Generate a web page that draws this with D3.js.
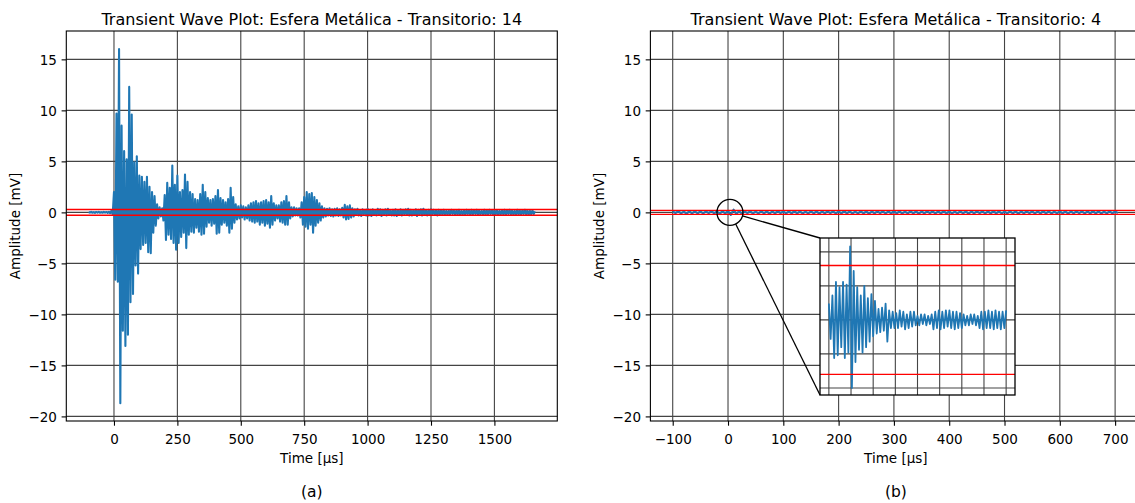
<!DOCTYPE html>
<html>
<head>
<meta charset="utf-8">
<script src="https://d3js.org/d3.v7.min.js"></script>
<style>
body { margin: 0; background: #fff; }
text { font-family: "DejaVu Sans", sans-serif; }
</style>
</head>
<body>
<script>
// ticks
var ampTicks = [-20, -15, -10, -5, 0, 5, 10, 15];
var timeTicksA = [0, 250, 500, 750, 1000, 1250, 1500];
var timeTicksB = [-100, 0, 100, 200, 300, 400, 500, 600, 700];
var zoomTimeTicks = [0, 5, 10, 15, 20, 25, 30, 35, 40];
var zoomAmpTicks = [-0.25, -0.125, 0, 0.125, 0.25];

var titles = ["Transient Wave Plot: Esfera Metálica - Transitorio: 14",
	"Transient Wave Plot: Esfera Metálica - Transitorio: 4"];
var captions = ["(a)", "(b)"];

// transitorio 14, one sample every 5 us starting at -100 us (mV)
var startA = -100, stepA = 5;
var waveA = [
	0.04,-0.03,0.05,-0.04,0.03,-0.05,0.04,-0.03,0.05,-0.04,
	0.03,-0.04,0.05,-0.03,0.04,-0.05,0.06,-0.08,0.15,-0.2,
	2.0,-6.6,9.7,-6.8,16.0,-18.7,8.5,-11.6,6.0,-13.1,
	5.2,-12.0,12.3,-8.8,9.6,-8.0,4.9,-5.2,5.5,-6.0,
	3.6,-3.6,3.5,-3.2,3.0,-3.0,3.5,-3.9,2.5,-4.0,
	2.0,-2.0,1.6,-1.3,0.8,-0.6,0.5,-0.4,0.4,-0.8,
	1.7,-2.7,2.9,-2.2,2.4,-2.6,4.6,-3.0,2.7,-3.65,
	3.6,-3.0,2.0,-2.4,2.2,-2.0,3.7,-3.5,3.0,-2.2,
	2.0,-1.9,1.8,-2.0,1.3,-1.5,1.2,-1.9,1.8,-2.2,
	2.7,-2.1,2.0,-1.4,1.4,-1.0,1.2,-1.3,1.3,-1.1,
	1.6,-2.1,2.2,-2.0,1.4,-1.2,1.2,-1.0,1.0,-1.3,
	1.3,-2.0,2.4,-1.6,1.5,-1.0,0.8,-0.7,0.6,-0.6,
	0.7,-0.5,0.6,-0.7,0.5,-0.6,0.7,-0.8,0.9,-0.9,
	1.0,-1.0,1.1,-0.9,0.9,-1.2,1.0,-1.0,1.1,-1.3,
	1.2,-1.1,1.0,-1.5,1.6,-1.2,0.9,-0.8,0.7,-0.6,
	0.7,-0.9,1.0,-1.0,1.1,-1.2,1.6,-1.2,1.0,-0.6,
	0.5,-0.4,0.5,-0.3,0.4,-0.3,0.4,-0.5,1.0,-1.2,
	1.5,-1.4,2.0,-1.6,1.8,-1.2,1.9,-2.0,1.5,-1.3,
	1.2,-1.0,0.9,-0.8,0.6,-0.5,0.4,-0.4,0.35,-0.3,
	0.4,-0.35,0.3,-0.4,0.35,-0.3,0.4,-0.35,0.3,-0.3,
	0.45,-0.5,0.75,-0.7,0.6,-0.65,0.7,-0.5,0.4,-0.4,
	0.3,-0.25,0.35,-0.3,0.2,-0.35,0.3,-0.2,0.25,-0.3,
	0.35,-0.3,0.25,-0.35,0.3,-0.25,0.2,-0.3,0.35,-0.25,
	0.3,-0.35,0.25,-0.2,0.3,-0.3,0.35,-0.25,0.2,-0.3,
	0.25,-0.3,0.3,-0.35,0.2,-0.25,0.3,-0.3,0.25,-0.2,
	0.3,-0.25,0.35,-0.3,0.25,-0.3,0.2,-0.25,0.3,-0.35,
	0.25,-0.2,0.3,-0.3,0.35,-0.25,0.2,-0.3,0.25,-0.25,
	0.3,-0.2,0.25,-0.25,0.2,-0.3,0.25,-0.2,0.2,-0.25,
	0.25,-0.2,0.15,-0.25,0.2,-0.2,0.25,-0.15,0.2,-0.25,
	0.2,-0.2,0.25,-0.25,0.15,-0.2,0.2,-0.25,0.25,-0.15,
	0.2,-0.25,0.25,-0.2,0.2,-0.15,0.25,-0.25,0.2,-0.2,
	0.15,-0.2,0.25,-0.25,0.2,-0.2,0.25,-0.15,0.2,-0.25,
	0.25,-0.2,0.2,-0.25,0.15,-0.2,0.2,-0.2,0.25,-0.25,
	0.2,-0.15,0.25,-0.2,0.2,-0.25,0.15,-0.2,0.25,-0.2,
	0.2,-0.25,0.2,-0.15,0.25,-0.2,0.2,-0.25,0.15,-0.2,
	0.2,-0.15,0.1
];
var thresholdA = 0.28;

// transitorio 4, one sample every 5 us starting at -100 us (mV)
var startB = -100, stepB = 5;
var waveB = [
	0.1,-0.08,0.12,-0.1,0.08,-0.12,0.1,-0.09,0.11,-0.1,
	0.09,-0.11,0.1,-0.08,0.12,-0.1,0.09,-0.12,0.1,-0.1,
	0.14,-0.25,0.27,-0.15,0.12,-0.12,0.09,-0.08,0.1,-0.1,
	0.08,-0.1,0.11,-0.09,0.1,-0.12,0.09,-0.1,0.12,-0.08,
	0.1,-0.11,0.09,-0.1,0.12,-0.09,0.1,-0.11,0.08,-0.1,
	0.11,-0.09,0.1,-0.12,0.09,-0.1,0.11,-0.08,0.1,-0.11,
	0.09,-0.1,0.12,-0.09,0.1,-0.11,0.08,-0.1,0.11,-0.09,
	0.1,-0.12,0.09,-0.1,0.11,-0.08,0.1,-0.11,0.09,-0.1,
	0.12,-0.09,0.1,-0.11,0.08,-0.1,0.11,-0.09,0.1,-0.12,
	0.09,-0.1,0.11,-0.08,0.1,-0.11,0.09,-0.1,0.12,-0.09,
	0.1,-0.11,0.08,-0.1,0.11,-0.09,0.1,-0.12,0.09,-0.1,
	0.11,-0.08,0.1,-0.11,0.09,-0.1,0.12,-0.09,0.1,-0.11,
	0.08,-0.1,0.11,-0.09,0.1,-0.12,0.09,-0.1,0.11,-0.08,
	0.1,-0.11,0.09,-0.1,0.12,-0.09,0.1,-0.11,0.08,-0.1,
	0.11,-0.09,0.1,-0.12,0.09,-0.1,0.11,-0.08,0.1,-0.11,
	0.09,-0.1,0.12,-0.09,0.1,-0.11,0.08,-0.1,0.11,-0.09,
	0.1,-0.08
];
var thresholdB = 0.2;

// first 40 us of transitorio 4 for the zoom box, one sample every 0.4 us
var startZoom = 0, stepZoom = 0.4;
var waveZoom = [
	0.06,-0.07,0.09,-0.14,0.14,-0.13,0.12,-0.10,0.14,-0.14,0.13,-0.12,0.27,
	-0.25,0.18,-0.155,0.12,-0.11,0.09,-0.12,0.125,-0.1,0.08,-0.08,0.095,
	-0.06,0.07,-0.05,0.04,-0.045,0.045,-0.04,0.06,-0.08,0.035,-0.03,0.03,
	-0.03,0.025,-0.03,0.035,-0.025,0.03,-0.035,0.02,-0.03,0.03,-0.025,0.03,
	-0.02,0.015,-0.02,0.02,-0.015,0.02,-0.02,0.015,-0.015,0.02,
	-0.035,0.03,-0.03,0.035,-0.035,0.03,-0.03,0.035,-0.025,0.035,-0.03,0.03,-0.035,0.03,-0.03,0.025,-0.03,
	0.02,-0.02,0.015,-0.02,0.02,-0.015,0.02,-0.02,0.015,
	-0.03,0.03,-0.035,0.03,-0.03,0.035,-0.03,0.03,-0.035,0.035,-0.03,0.03,-0.035,0.03,-0.03,0.035
];
// centre of the zoom circle in panel b (us, mV)
var zoomSpot = [3.5, 0];


var svg = d3.select("body").append("svg")
	.attr("width", 1135)
	.attr("height", 503)
	.style("display", "block");

var plotTop = 31, plotBottom = 421;
var gridColor = "#444", waveColor = "#1f77b4";
var tickFont = "13.5px";
var tickFmt = d3.format("d");

var y = d3.scaleLinear().domain([-20.45, 17.78]).range([plotBottom, plotTop]);

function gridLines(g, xs, ys, xTicks, yTicks) {
	var x0 = xs.range()[0], x1 = xs.range()[1];
	var y0 = ys.range()[0], y1 = ys.range()[1];
	g.append("g").selectAll("line").data(xTicks).enter().append("line")
		.attr("x1", function(d){return xs(d)})
		.attr("x2", function(d){return xs(d)})
		.attr("y1", y0).attr("y2", y1)
		.style("stroke", gridColor).style("stroke-width", 1.1);
	g.append("g").selectAll("line").data(yTicks).enter().append("line")
		.attr("x1", x0).attr("x2", x1)
		.attr("y1", function(d){return ys(d)})
		.attr("y2", function(d){return ys(d)})
		.style("stroke", gridColor).style("stroke-width", 1.1);
}

function waveLine(g, xs, ys, wave, start, step, clip, w) {
	var line = d3.line()
		.x(function(d, i){return xs(start + i * step)})
		.y(function(d){return ys(d)});
	g.append("path").datum(wave)
		.attr("d", line)
		.attr("clip-path", "url(#" + clip + ")")
		.style("fill", "none")
		.style("stroke", waveColor)
		.style("stroke-width", w)
		.style("stroke-linejoin", "round");
}

function thresholdLines(g, xs, ys, thr) {
	g.append("g").selectAll("line").data([thr, -thr]).enter().append("line")
		.attr("x1", xs.range()[0]).attr("x2", xs.range()[1])
		.attr("y1", function(d){return ys(d)})
		.attr("y2", function(d){return ys(d)})
		.style("stroke", "#ff0000")
		.style("stroke-width", 1.3);
}

function panel(name, left, right, xDomain, xTicks, wave, start, step, thr, idx) {
	var x = d3.scaleLinear().domain(xDomain).range([left, right]);
	var g = svg.append("g").attr("id", name);

	g.append("clipPath").attr("id", "clip-" + name)
		.append("rect")
		.attr("x", left).attr("y", plotTop)
		.attr("width", right - left).attr("height", plotBottom - plotTop);

	gridLines(g, x, y, xTicks, ampTicks);
	waveLine(g, x, y, wave, start, step, "clip-" + name, 2.1);
	thresholdLines(g, x, y, thr);

	g.append("rect")
		.attr("x", left).attr("y", plotTop)
		.attr("width", right - left).attr("height", plotBottom - plotTop)
		.style("fill", "none").style("stroke", "#000").style("stroke-width", 1.1);

	var xAxis = g.append("g")
		.attr("transform", "translate(0," + plotBottom + ")")
		.call(d3.axisBottom(x).tickValues(xTicks).tickFormat(tickFmt).tickSize(4.7).tickSizeOuter(0));
	var yAxis = g.append("g")
		.attr("transform", "translate(" + left + ",0)")
		.call(d3.axisLeft(y).tickValues(ampTicks).tickFormat(tickFmt).tickSize(4.7).tickPadding(4.7).tickSizeOuter(0));
	[xAxis, yAxis].forEach(function(a){
		a.select(".domain").remove();
		a.selectAll(".tick line").attr("stroke", "#000").style("stroke-width", 1.1);
		a.selectAll("text").attr("fill", "#000").style("font-size", tickFont);
	});
	xAxis.selectAll("text").attr("dy", null).attr("y", 23);
	yAxis.selectAll("text").attr("dy", "0.36em");

	var mid = (left + right) / 2;
	g.append("text")
		.attr("x", mid).attr("y", 25)
		.attr("text-anchor", "middle")
		.style("font-size", "16px")
		.text(titles[idx]);
	g.append("text")
		.attr("x", mid).attr("y", 463)
		.attr("text-anchor", "middle")
		.style("font-size", tickFont)
		.text("Time [µs]");
	g.append("text")
		.attr("transform", "translate(" + (left - 46) + "," + ((plotTop + plotBottom) / 2) + ") rotate(-90)")
		.attr("text-anchor", "middle")
		.style("font-size", tickFont)
		.text("Amplitude [mV]");
	g.append("text")
		.attr("x", mid).attr("y", 497)
		.attr("text-anchor", "middle")
		.style("font-size", "15.5px")
		.text(captions[idx]);

	return x;
}

var xA = panel("panel-a", 66.3, 557.3, [-188, 1748], timeTicksA, waveA, startA, stepA, thresholdA, 0);
var xB = panel("panel-b", 650.4, 1141.3, [-140.35, 747.35], timeTicksB, waveB, startB, stepB, thresholdB, 1);

//zoom box on panel b
var zLeft = 820, zRight = 1015, zTop = 238, zBottom = 395;
var xz = d3.scaleLinear().domain([-2, 42]).range([zLeft, zRight]);
var yz = d3.scaleLinear().domain([-0.276, 0.301]).range([zBottom, zTop]);
var inset = svg.append("g").attr("id", "zoom-box");

inset.append("clipPath").attr("id", "clip-zoom")
	.append("rect")
	.attr("x", zLeft).attr("y", zTop)
	.attr("width", zRight - zLeft).attr("height", zBottom - zTop);
inset.append("rect")
	.attr("x", zLeft).attr("y", zTop)
	.attr("width", zRight - zLeft).attr("height", zBottom - zTop)
	.style("fill", "#fff");
gridLines(inset, xz, yz, zoomTimeTicks, zoomAmpTicks);
waveLine(inset, xz, yz, waveZoom, startZoom, stepZoom, "clip-zoom", 1.8);
thresholdLines(inset, xz, yz, thresholdB);
inset.append("rect")
	.attr("x", zLeft).attr("y", zTop)
	.attr("width", zRight - zLeft).attr("height", zBottom - zTop)
	.style("fill", "none").style("stroke", "#000").style("stroke-width", 1.3);

//circle on the trigger and the two lines to the box corners
var cx = xB(zoomSpot[0]), cy = y(zoomSpot[1]), cr = 13;
svg.append("circle")
	.attr("cx", cx).attr("cy", cy).attr("r", cr)
	.style("fill", "none").style("stroke", "#000").style("stroke-width", 1.3);
[[zLeft, zTop], [zLeft, zBottom]].forEach(function(c){
	var a = Math.atan2(c[1] - cy, c[0] - cx);
	svg.append("line")
		.attr("x1", cx + cr * Math.cos(a)).attr("y1", cy + cr * Math.sin(a))
		.attr("x2", c[0]).attr("y2", c[1])
		.style("stroke", "#000").style("stroke-width", 1.3);
});
</script>
</body>
</html>
